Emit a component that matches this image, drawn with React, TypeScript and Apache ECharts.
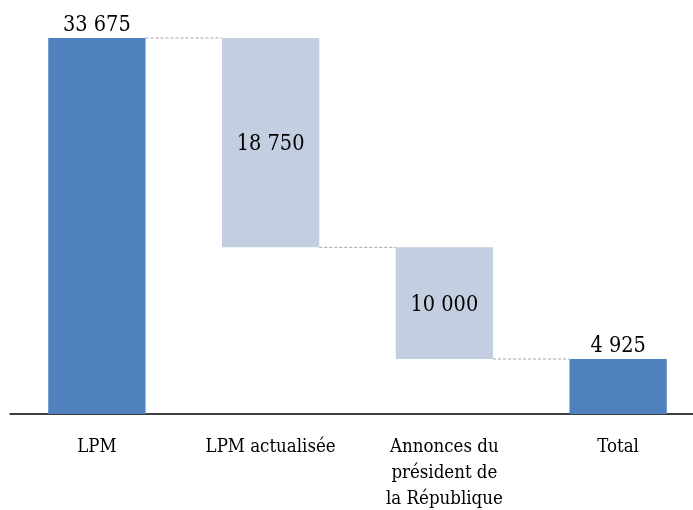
import React, { useEffect, useRef } from "react";
import * as echarts from "echarts";

const categories = ["LPM", "LPM actualisée", "Annonces du\nprésident de\nla République", "Total"];
const barValues = [33675, 18750, 10000, 4925];
const baseValues = [0, 14925, 4925, 0];
const isTotal = [true, false, false, true];
const connectorLevels = [33675, 14925, 4925];

const DARK = "#4F81BD";
const LIGHT = "#C3CEE1";
const FONT = "DejaVu Serif Condensed";

function fmt(v: number): string {
  return String(v).replace(/\B(?=(\d{3})+(?!\d))/g, " ");
}

export default function App() {
  const ref = useRef<HTMLDivElement>(null);
  useEffect(() => {
    if (!ref.current) return;
    const chart = echarts.init(ref.current, null, { renderer: "svg" });
    const barRatio = 0.56;
    chart.setOption({
      animation: false,
      textStyle: { fontFamily: FONT },
      grid: { left: 10, width: 695, top: 38, height: 377, containLabel: false },
      xAxis: {
        type: "category",
        data: categories,
        axisLine: { show: true, lineStyle: { color: "#000", width: 1.5 } },
        axisTick: { show: false },
        axisLabel: {
          interval: 0,
          margin: 18,
          fontFamily: FONT,
          fontSize: 18.5,
          lineHeight: 26,
          color: "#000",
        },
      },
      yAxis: {
        type: "value",
        min: 0,
        max: 33675,
        show: false,
        splitLine: { show: false },
      },
      series: [
        {
          type: "bar",
          stack: "w",
          data: baseValues,
          itemStyle: { color: "transparent" },
          barCategoryGap: "44%",
          silent: true,
        },
        {
          type: "bar",
          stack: "w",
          barCategoryGap: "44%",
          data: barValues.map((v, i) => ({
            value: v,
            itemStyle: { color: isTotal[i] ? DARK : LIGHT },
            label: {
              show: true,
              position: isTotal[i] ? "top" : "inside",
              distance: 4,
              formatter: () => fmt(v),
              fontFamily: FONT,
              fontSize: 21.5,
              color: "#000",
            },
          })),
        },
        {
          type: "custom",
          data: connectorLevels.map((lv, i) => [i, lv]),
          renderItem: (params: any, api: any) => {
            const i = api.value(0);
            const lv = api.value(1);
            const bw = api.size([1, 0])[0] * barRatio;
            const p0 = api.coord([i, lv]);
            const p1 = api.coord([i + 1, lv]);
            return {
              type: "line",
              shape: { x1: p0[0] + bw / 2, y1: p0[1], x2: p1[0] - bw / 2, y2: p1[1] },
              style: { stroke: "#A6A6A6", lineWidth: 1, lineDash: [3, 2] },
            };
          },
          z: 3,
        },
      ],
    });
    return () => chart.dispose();
  }, []);
  return (
    <div style={{ position: "fixed", left: 0, top: 0, width: 693, height: 510, overflow: "hidden" }}>
      <div ref={ref} style={{ width: 710, height: 510 }} />
    </div>
  );
}
